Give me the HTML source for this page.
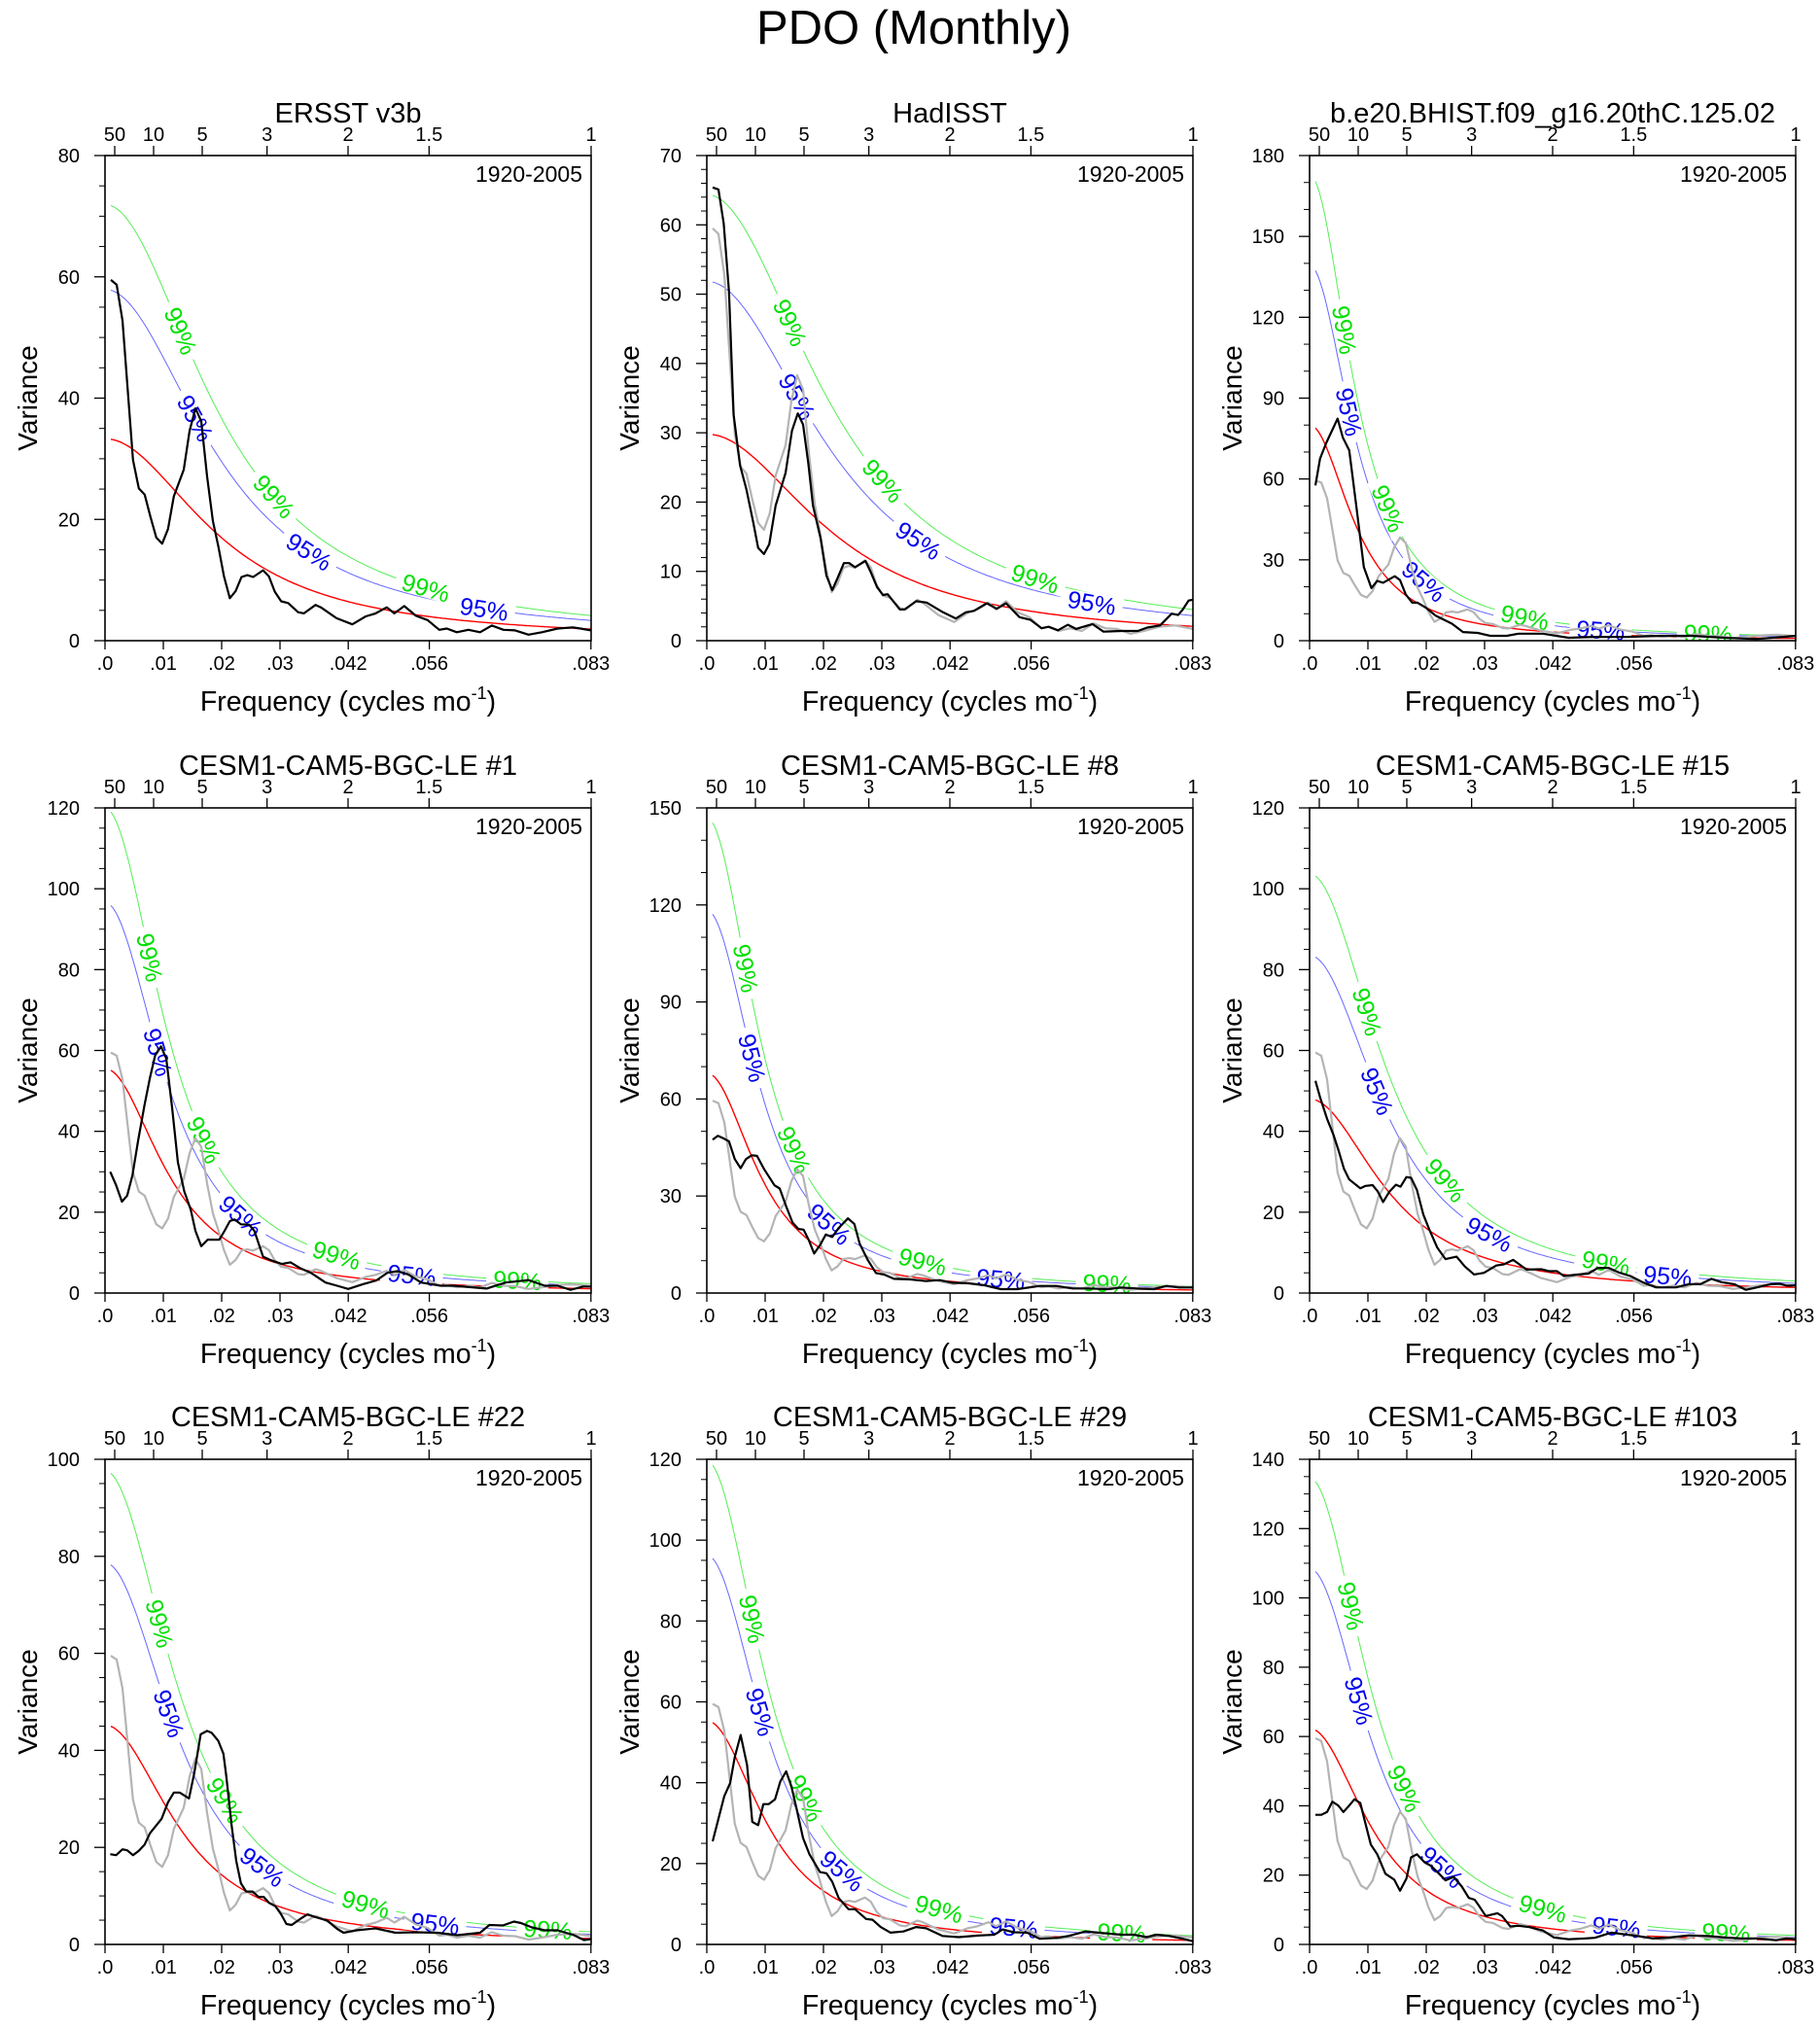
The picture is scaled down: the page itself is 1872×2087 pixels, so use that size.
<!DOCTYPE html>
<html><head><meta charset="utf-8"><title>PDO (Monthly)</title>
<style>
html,body{margin:0;padding:0;background:#fff;}
svg{display:block;font-family:"Liberation Sans",Arial,sans-serif;}
</style></head>
<body>
<svg id="chart" xmlns="http://www.w3.org/2000/svg" width="1872" height="2087" viewBox="0 0 1872 2087">
<rect width="1872" height="2087" fill="#fff"/>
<text x="940" y="45" font-size="49" text-anchor="middle" fill="#000">PDO (Monthly)</text>
</svg>
<script>
// ---- data ----
const panelTitles = ["ERSST v3b","HadISST","b.e20.BHIST.f09_g16.20thC.125.02","CESM1-CAM5-BGC-LE #1","CESM1-CAM5-BGC-LE #8","CESM1-CAM5-BGC-LE #15","CESM1-CAM5-BGC-LE #22","CESM1-CAM5-BGC-LE #29","CESM1-CAM5-BGC-LE #103"];
const yMaxes = [80,70,180,120,150,120,100,120,140];
const yMajorSteps = [20,10,30,20,30,20,20,20,20];
const yMinorSteps = [5,2,10,5,10,5,5,5,5];
const xTickValues = [0,0.01,0.02,0.03,0.0417,0.0556,0.0833];
const xTickLabels = [".0",".01",".02",".03",".042",".056",".083"];
const periodTickYears = [50,10,5,3,2,1.5,1];
const periodTickLabels = ["50","10","5","3","2","1.5","1"];
const redNoiseS0 = [33.3,29.8,80,55.5,68,48,45.2,55.3,62.3];
const redNoiseLag1 = [0.88,0.868,0.948,0.93,0.94,0.915,0.918,0.932,0.93];
const conf95Factor = 1.74;
const conf99Factor = 2.16;
const label99Freqs = [[0.013,0.029,0.055],[0.0143,0.0302,0.0563],[0.006,0.0135,0.0369,0.0683],[0.0077,0.017,0.0397,0.0707],[0.0067,0.015,0.037,0.0686],[0.0099,0.0233,0.0508],[0.0094,0.0206,0.0447,0.0759],[0.0078,0.017,0.0398,0.0711],[0.0071,0.0163,0.04,0.0714]];
const label95Freqs = [[0.0155,0.035,0.065],[0.0155,0.0363,0.066],[0.0068,0.0196,0.0499],[0.0091,0.0233,0.0526],[0.0078,0.021,0.0504],[0.0116,0.0308,0.0614],[0.011,0.027,0.0566],[0.0092,0.0232,0.0526],[0.0085,0.0227,0.0526]];

const specFreq1 = [.001,.002,.003,.0048,.0058,.0068,.0078,.0088,.0098,.0108,.0118,.0135,.0145,.0155,.0165,.0175,.0185,.0194,.0204,.0214,.0224,.0234,.0244,.0254,.0271,.0281,.0291,.0302,.0314,.0331,.0341,.0361,.037,.0397,.0424,.0447,.0464,.0483,.0496,.0513,.0533,.0553,.0573,.0586,.0603,.0623,.0643,.0663,.0683,.0703,.0726,.0749,.0776,.0802,.0815,.0833];
const specVar1 = [59.5,58.7,52.8,29.8,25.1,24.1,20.4,17.0,16.0,18.4,23.8,28.2,34.6,38.3,36.2,27.1,19.7,15.7,10.6,7.0,8.2,10.5,10.8,10.5,11.6,10.6,8.1,6.5,6.2,4.7,4.5,5.9,5.5,3.7,2.7,4.0,4.5,5.5,4.5,5.7,4.1,3.4,1.8,2.0,1.4,1.8,1.4,2.5,1.8,1.7,1.0,1.4,2.0,2.2,2.0,1.7];
const specFreq2 = [.001,.002,.0029,.0038,.0046,.0057,.0068,.008,.0088,.0098,.0107,.0118,.0135,.0146,.0156,.0165,.0174,.0182,.0195,.0205,.0215,.0224,.0235,.0244,.0254,.0272,.0281,.0292,.0302,.031,.0331,.0339,.0359,.0377,.0405,.0427,.0444,.0458,.048,.0497,.0513,.0536,.0555,.0574,.0586,.0602,.0619,.0633,.0661,.068,.0711,.0739,.0755,.0777,.0797,.0808,.0816,.0826,.0833];
const specVar2 = [65.4,65.1,60.2,50.4,32.6,25.3,21.8,16.9,13.4,12.5,13.9,19.5,24.2,30.3,32.8,31.2,25.6,19.5,14.8,9.4,7.3,9.0,11.2,11.2,10.6,11.5,9.9,7.7,6.6,6.7,4.5,4.5,5.7,5.5,4.1,3.2,4.1,4.3,5.4,4.6,5.4,3.4,3.0,1.8,2.0,1.5,2.3,1.7,2.4,1.3,1.4,1.4,1.9,2.2,3.9,3.7,4.5,5.8,5.9];
const specFreq3 = [.001,.0018,.0029,.0048,.0057,.0068,.008,.0093,.0106,.0116,.0126,.0146,.0155,.0165,.0176,.0185,.0199,.0216,.0244,.0263,.0288,.031,.0338,.0358,.04,.0444,.0488,.0544,.06,.0655,.0711,.0766,.0794,.0833];
const specVar3 = [57.6,67.6,73.6,82.4,75.4,70.6,50.1,27.3,19.5,22.2,21.5,23.9,22.5,17.1,14.1,14.1,12.3,9.3,6.3,3.2,2.9,1.8,1.8,2.6,2.6,1.1,1.4,1.4,1.8,1.8,1.1,0.6,1.1,1.8];
const specFreq4 = [.0009,.0019,.0029,.0038,.0047,.0057,.0068,.0077,.0086,.0096,.0105,.0115,.0125,.0136,.0147,.0155,.0165,.0176,.0196,.0205,.0214,.0222,.0233,.0247,.0256,.0271,.0283,.0303,.0318,.0334,.0353,.0378,.0398,.0417,.0442,.0465,.0484,.0501,.052,.0542,.0576,.0598,.0654,.0687,.0726,.0754,.0776,.0798,.082,.0833];
const specVar4 = [30.0,26.7,22.6,24.1,29.1,37.9,46.7,53.2,58.8,61.0,58.0,45.9,32.3,25.1,20.6,15.4,11.6,13.2,13.2,15.4,17.8,18.2,17.0,16.9,15.4,9.0,8.2,7.2,7.6,6.2,5.0,2.6,1.8,1.0,2.2,3.1,5.0,5.4,4.6,2.6,1.8,1.8,1.1,2.6,3.2,1.8,1.8,0.8,1.6,1.6];
const specFreq5 = [.001,.0019,.0028,.0038,.0048,.0058,.0067,.0077,.0086,.0098,.0116,.0125,.0136,.0147,.0157,.0166,.0175,.0184,.0194,.0204,.0215,.0226,.0242,.0253,.0262,.0276,.029,.0304,.0321,.0349,.0376,.0399,.0421,.0449,.0476,.0504,.0532,.0571,.0599,.0627,.0654,.0688,.071,.0738,.0766,.0788,.081,.0833];
const specVar5 = [47.4,48.6,47.9,46.9,41.4,38.6,41.4,42.6,42.4,38.4,33.3,32.3,26.8,21.8,19.8,19.6,16.3,12.2,14.8,18.1,17.3,20.1,23.1,21.3,15.3,10.2,6.2,5.7,4.4,4.2,3.7,4.0,3.2,3.0,2.4,1.2,1.2,2.2,2.2,1.4,1.4,1.2,1.7,1.4,1.2,2.2,1.7,1.7];
const specFreq6 = [.001,.0018,.003,.0041,.005,.0059,.0068,.0087,.0096,.0108,.0117,.0126,.0137,.0148,.0156,.0166,.0174,.0184,.0195,.0205,.0219,.0233,.0252,.0266,.0282,.0299,.032,.0333,.0349,.0372,.0397,.041,.0424,.0436,.0461,.0478,.0494,.0513,.053,.055,.0572,.0594,.0628,.065,.067,.0689,.0706,.0728,.0748,.0767,.079,.0806,.0818,.0833];
const specVar6 = [52.5,48.4,43.1,39.1,35.1,30.7,28.1,25.9,26.5,26.7,25.1,22.5,25.1,26.8,26.3,28.7,28.5,25.5,19.4,15.8,11.2,8.4,9.0,6.6,4.6,5.0,6.8,7.1,8.2,5.8,5.9,5.4,5.4,4.2,4.6,4.8,6.2,6.2,5.1,4.2,2.6,1.4,1.4,2.2,2.2,3.5,2.7,2.2,0.8,1.4,2.2,2.3,1.8,1.9];
const specFreq7 = [.0009,.0019,.003,.0038,.0048,.0058,.0068,.0077,.0097,.0108,.0118,.0128,.0144,.0153,.0164,.0175,.0183,.0194,.0203,.0208,.0217,.0225,.0233,.0242,.0253,.0263,.0272,.0281,.0292,.0302,.0311,.032,.0334,.0347,.0359,.0381,.0398,.0409,.0431,.0464,.0498,.0531,.057,.0604,.0643,.0659,.0682,.0701,.0713,.0732,.0754,.0776,.0804,.0821,.0833];
const specVar7 = [18.6,18.4,19.6,19.4,18.4,19.3,20.6,22.9,25.9,29.3,31.3,31.3,30.1,35.3,43.3,44.0,43.6,42.0,39.3,34.6,24.6,17.2,12.6,10.9,10.9,9.8,9.8,8.6,7.9,6.2,4.2,4.0,5.2,6.2,5.7,4.9,3.2,2.4,2.9,3.3,2.4,2.5,2.4,1.9,2.4,4.0,3.9,4.7,4.4,3.5,2.9,2.9,1.9,0.9,1.1];
const specFreq8 = [.001,.002,.003,.004,.0048,.0058,.0069,.0078,.0088,.0097,.0106,.0117,.0126,.0136,.0145,.0154,.0165,.0176,.0194,.0205,.0215,.0226,.0243,.0254,.0273,.0284,.0298,.0315,.0337,.0359,.0376,.0404,.0432,.0465,.0493,.0507,.0526,.0549,.0571,.0599,.062,.0649,.0671,.071,.0732,.0754,.0771,.0793,.0816,.0833];
const specVar8 = [25.5,31.1,36.7,39.9,46.4,51.8,44.4,30.3,29.5,34.7,34.7,35.9,40.3,42.8,39.1,33.5,26.3,22.3,17.9,17.6,15.5,11.5,8.7,8.7,6.3,6.1,4.3,2.9,3.2,4.3,4.0,2.1,1.8,2.2,2.4,3.7,3.0,2.9,1.4,1.6,2.1,3.2,2.9,2.4,2.4,1.8,2.4,2.1,1.4,0.8];
const specFreq9 = [.001,.002,.003,.0039,.0049,.0058,.0068,.0077,.0087,.0095,.0105,.0116,.013,.0145,.0155,.0166,.0174,.0184,.0197,.0208,.0222,.0233,.0247,.0261,.0273,.0283,.0291,.0302,.0322,.033,.0344,.0358,.0377,.04,.0419,.0444,.0472,.0489,.0517,.0545,.0572,.0589,.0617,.065,.0684,.0712,.074,.0767,.08,.0817,.0833];
const specVar9 = [37.4,37.4,38.2,41.2,40.1,38.2,40.1,41.9,40.8,35.4,28.8,26.0,20.4,18.7,15.5,19.0,25.1,26.0,23.7,22.7,20.4,18.5,19.5,16.7,13.4,12.9,11.0,8.2,9.0,8.2,5.2,5.4,5.0,4.0,2.0,1.5,1.7,1.9,3.4,2.8,2.2,1.7,2.0,2.6,2.4,2.0,1.7,1.7,1.2,1.7,1.5];

const specFreqs = [specFreq1,specFreq2,specFreq3,specFreq4,specFreq5,specFreq6,specFreq7,specFreq8,specFreq9];
const specVars = [specVar1,specVar2,specVar3,specVar4,specVar5,specVar6,specVar7,specVar8,specVar9];

// ---- layout ----
const colLeft = [108,727,1347];
const rowTop = [160,831,1501];
const PW = 500, PH = 499, XMAX = 1/12;
const NS = "http://www.w3.org/2000/svg";
const svg = document.getElementById('chart');
function mk(tag, attrs, parent){const e=document.createElementNS(NS,tag);for(const k in attrs)e.setAttribute(k,attrs[k]);(parent||svg).appendChild(e);return e;}

function redNoise(p,f){const r=redNoiseLag1[p];return redNoiseS0[p]*(1-r)*(1-r)/(1-2*r*Math.cos(2*Math.PI*f)+r*r);}

for(let p=0;p<9;p++){
  const L=colLeft[p%3], T=rowTop[Math.floor(p/3)], B=T+PH, R=L+PW;
  const yMax=yMaxes[p];
  const xs=f=>L+f/XMAX*PW;
  const ys=v=>B-v/yMax*PH;
  const g=mk('g',{});
  
  
  const t=mk('text',{x:(L+R)/2,y:T-34,'font-size':29,'text-anchor':'middle'},g);
  
  
  t.textContent=panelTitles[p];
  const yr=mk('text',{x:R-9,y:T+27,'font-size':23,'text-anchor':'end'},g);
  
  
  yr.textContent='1920-2005';
  for(let v=0;v<=yMax+1e-9;v+=yMinorSteps[p]){
    const major=Math.abs(v/yMajorSteps[p]-Math.round(v/yMajorSteps[p]))<1e-6;
    const tk=mk('line',{x1:L-(major?11:6),x2:L,y1:ys(v),y2:ys(v),stroke:'#000','stroke-width':major?1.3:1},g);
    
    
    if(major){
      const tl=mk('text',{x:L-26,y:ys(v)+7,'font-size':20,'text-anchor':'end'},g);
      
      
      tl.textContent=String(Math.round(v));
    }
  }
  xTickValues.forEach((fv,i)=>{
    const tk=mk('line',{x1:xs(fv),x2:xs(fv),y1:B,y2:B+9,stroke:'#000','stroke-width':1.3},g);
    
    
    const tl=mk('text',{x:xs(fv),y:B+30,'font-size':20,'text-anchor':'middle'},g);
    
    
    tl.textContent=xTickLabels[i];
  });
  periodTickYears.forEach((yrs,i)=>{
    const fv=1/(12*yrs);
    const tk=mk('line',{x1:xs(fv),x2:xs(fv),y1:T,y2:T-10,stroke:'#000','stroke-width':1.3},g);
    
    
    const tl=mk('text',{x:xs(fv),y:T-15,'font-size':20,'text-anchor':'middle'},g);
    
    
    tl.textContent=periodTickLabels[i];
  });
  const yt=mk('text',{x:0,y:0,'font-size':28,'text-anchor':'middle',transform:`translate(${L-70},${(T+B)/2}) rotate(-90)`},g);
  
  
  yt.textContent='Variance';
  const xt=mk('text',{x:(L+R)/2,y:B+72,'font-size':28.5,'text-anchor':'middle'},g);
  
  
  xt.appendChild(document.createTextNode('Frequency (cycles mo'));
  const sup=mk('tspan',{dy:-12,'font-size':18},xt); sup.textContent='-1';
  const cl=mk('tspan',{dy:12},xt); cl.textContent=')';
  const cid='clip'+p;
  const cp=mk('clipPath',{id:cid},g); mk('rect',{x:L,y:T,width:PW,height:PH},cp);
  const pg=mk('g',{'clip-path':`url(#${cid})`},g);
  const curves=[[1,'#ff0000',1.4,'red-noise-curve'],[conf95Factor,'#6666ff',1,'conf95-curve'],[conf99Factor,'#55ee55',1,'conf99-curve']];
  curves.forEach(c=>{
    let d='';
    for(let i=0;i<=200;i++){const f=0.001+(XMAX-0.001)*i/200;d+=(i?'L':'M')+xs(f).toFixed(1)+','+ys(redNoise(p,f)*c[0]).toFixed(1);}
    const pa=mk('path',{d:d,fill:'none',stroke:c[1],'stroke-width':c[2]},pg);
    
    
  });
  const labelSets=[[label99Freqs[p],conf99Factor,'#00e000','99%'],[label95Freqs[p],conf95Factor,'#0000ee','95%']];
  labelSets.forEach(ls=>{
    ls[0].forEach(fv=>{
      const x0=xs(fv), y0=ys(redNoise(p,fv)*ls[1]);
      const y1=ys(redNoise(p,fv+0.0005)*ls[1]), x1=xs(fv+0.0005);
      const ang=Math.atan2(y1-y0,x1-x0)*180/Math.PI;
      const lg=mk('g',{transform:`translate(${x0.toFixed(1)},${y0.toFixed(1)}) rotate(${ang.toFixed(1)})`},pg);
      mk('rect',{x:-32,y:-10,width:64,height:20,fill:'#fff'},lg);
      const lt=mk('text',{x:0,y:9,'font-size':25,'text-anchor':'middle',fill:ls[2]},lg);
      
      
      lt.textContent=ls[3];
    });
  });
  const drawSpec=(fr,va,color,name)=>{
    const d=fr.map((f,i)=>(i?'L':'M')+xs(f).toFixed(1)+','+ys(va[i]).toFixed(1)).join('');
    const pa=mk('path',{d:d,fill:'none',stroke:color,'stroke-width':2.2,'stroke-linejoin':'round'},pg);
    
    
  };
  if(p>0) drawSpec(specFreq1,specVar1,'#b4b4b4','ersst-reference-spectrum');
  drawSpec(specFreqs[p],specVars[p],'#000','spectrum-line');
  const fr=mk('rect',{x:L,y:T,width:PW,height:PH,fill:'none',stroke:'#000','stroke-width':1.6},g);
  
  
}
</script>
</body></html>
